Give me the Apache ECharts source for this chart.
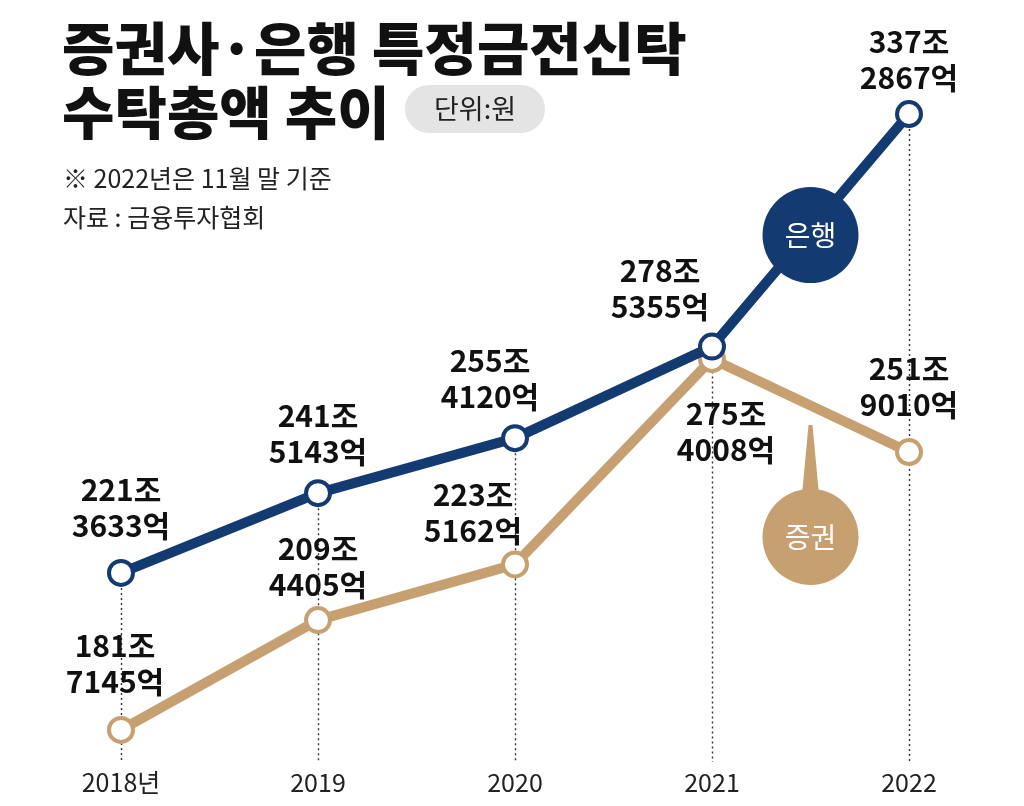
<!DOCTYPE html>
<html>
<head>
<meta charset="utf-8">
<script src="https://cdn.jsdelivr.net/npm/echarts@6/dist/echarts.min.js"></script>
<style>
  html, body { margin: 0; padding: 0; background: #fff; }
  #chart { width: 1024px; height: 806px; }
</style>
</head>
<body>
<div id="chart"></div>
<script>
// --- data (단위: 조원) ---
var YEARS = [2018, 2019, 2020, 2021, 2022];
var YEAR_LABELS = ['2018년', '2019', '2020', '2021', '2022'];
var BANK = [221.3633, 241.5143, 255.4120, 278.5355, 337.2867];   // 은행
var SEC  = [181.7145, 209.4405, 223.5162, 275.4008, 251.9010];   // 증권

var NAVY = '#143a72';
var TAN  = '#c7a071';
var FONT = '"Noto Sans CJK KR", "Noto Sans", sans-serif';

var Y_MIN = 173.6, Y_MAX = 352.45;

// where the value labels sit relative to their point (px)
var BANK_LABEL_OFS = [[0, -65], [0, -60], [-25, -60], [-52, -58], [0, -54]];
var SEC_LABEL_OFS  = [[-6, -66], [0, -54], [-42, -52], [14, 73], [0, -65]];

// 증권 bubble: circle with a thin spike pointing up
var SPIKE_BUBBLE = 'path://M46,0 L50,0 L56,64.67 A48,48 0 1 1 40,64.67 Z';

function fmtJo(v) {
  var jo = Math.floor(v);
  var eok = Math.round((v - jo) * 10000);
  return jo + '조\n' + eok + '억';
}

function points(vals, ofs) {
  return vals.map(function(v, i) {
    return { value: [YEARS[i], v], label: { offset: ofs[i] } };
  });
}

var valueLabel = {
  show: true,
  position: 'inside',
  align: 'center',
  verticalAlign: 'middle',
  color: '#111',
  fontFamily: FONT,
  fontWeight: 'bold',
  fontSize: 30,
  lineHeight: 36,
  formatter: function(p) { return fmtJo(p.value[1]); }
};

var chart = echarts.init(document.getElementById('chart'));

chart.setOption({
  animation: false,
  backgroundColor: '#fff',
  grid: { left: 121, right: 115, top: 54, bottom: 44, containLabel: false },
  xAxis: {
    type: 'value',
    min: 2018, max: 2022, interval: 1,
    axisLine: { show: false },
    axisTick: { show: false },
    splitLine: { show: false },
    axisLabel: {
      margin: 8,
      color: '#222',
      fontFamily: FONT,
      fontSize: 25,
      formatter: function(v) { return YEAR_LABELS[YEARS.indexOf(v)] || ''; }
    }
  },
  yAxis: {
    type: 'value',
    min: Y_MIN, max: Y_MAX,
    show: false,
    splitLine: { show: false }
  },
  series: [
    {
      // dotted guides from each bank point down to the axis
      name: 'guide',
      type: 'line',
      data: [],
      z: 1,
      silent: true,
      markLine: {
        z: 1,
        silent: true,
        symbol: 'none',
        label: { show: false },
        lineStyle: { color: '#333', width: 1.4, type: [2, 3] },
        data: YEARS.map(function(y, i) {
          return [{ coord: [y, BANK[i]] }, { coord: [y, Y_MIN] }];
        })
      }
    },
    {
      name: '증권',
      type: 'line',
      z: 3,
      data: points(SEC, SEC_LABEL_OFS),
      symbol: 'circle',
      symbolSize: 24,
      lineStyle: { color: TAN, width: 10 },
      itemStyle: { color: '#fff', borderColor: TAN, borderWidth: 4 },
      label: valueLabel,
      markPoint: {
        silent: true,
        data: [{
          coord: [2021.5, 230.45],
          symbol: SPIKE_BUBBLE,
          symbolSize: [96, 160],
          symbolOffset: [0, -32],
          itemStyle: { color: TAN },
          label: {
            show: true, position: 'inside', offset: [0, 32],
            formatter: '증권', color: '#fff',
            fontFamily: FONT, fontSize: 28
          }
        }]
      }
    },
    {
      name: '은행',
      type: 'line',
      z: 4,
      data: points(BANK, BANK_LABEL_OFS),
      symbol: 'circle',
      symbolSize: 24,
      lineStyle: { color: NAVY, width: 10 },
      itemStyle: { color: '#fff', borderColor: NAVY, borderWidth: 4 },
      label: valueLabel,
      markPoint: {
        silent: true,
        data: [{
          coord: [2021.5, 306.7],
          symbol: 'circle',
          symbolSize: 96,
          itemStyle: { color: NAVY },
          label: {
            show: true, position: 'inside',
            formatter: '은행', color: '#fff',
            fontFamily: FONT, fontSize: 28
          }
        }]
      }
    }
  ],
  graphic: [
    {
      type: 'text', left: 62, top: 20,
      style: { text: '증권사·은행 특정금전신탁', fill: '#111', font: '900 57px ' + FONT }
    },
    {
      type: 'text', left: 62, top: 84,
      style: { text: '수탁총액 추이', fill: '#111', font: '900 57px ' + FONT }
    },
    {
      type: 'rect', left: 405, top: 85,
      shape: { width: 140, height: 48, r: 24 },
      style: { fill: '#e4e4e4' }
    },
    {
      type: 'text', x: 475, y: 109,
      style: { text: '단위:원', fill: '#222', font: '27px ' + FONT, align: 'center', verticalAlign: 'middle' }
    },
    {
      type: 'text', x: 63, y: 178,
      style: { text: '※ 2022년은 11월 말 기준', fill: '#222', font: '25px ' + FONT, verticalAlign: 'middle' }
    },
    {
      type: 'text', x: 63, y: 217,
      style: { text: '자료 : 금융투자협회', fill: '#222', font: '25px ' + FONT, verticalAlign: 'middle' }
    }
  ]
});
</script>
</body>
</html>
